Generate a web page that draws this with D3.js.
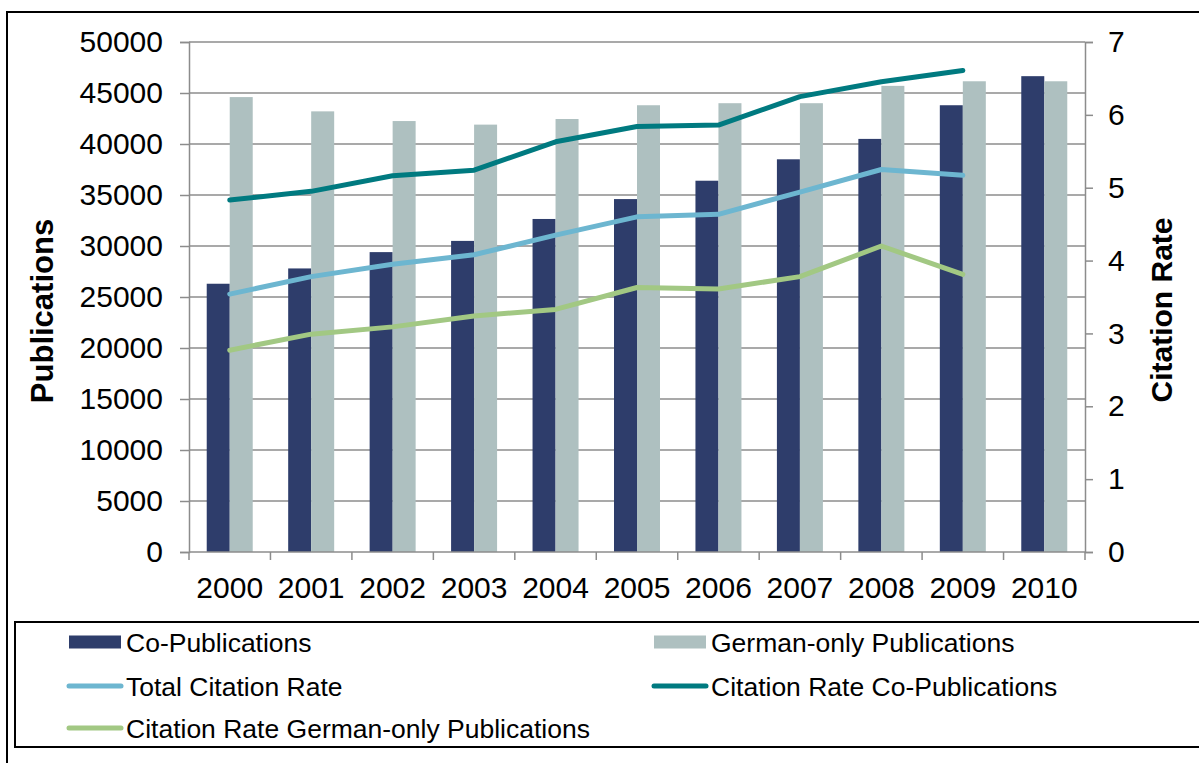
<!DOCTYPE html>
<html><head><meta charset="utf-8">
<script src="https://cdn.jsdelivr.net/npm/d3@7"></script>
<style>body{margin:0;background:#fff}svg{display:block;font-family:"Liberation Sans",Arial,sans-serif}</style>
</head><body>
<svg id="c" width="1199" height="763"></svg>
<script>
const years = ["2000","2001","2002","2003","2004","2005","2006","2007","2008","2009","2010"];
const coPublications = [26300,27800,29400,30500,32650,34600,36400,38500,40500,43800,46650];
const germanOnlyPublications = [44600,43200,42250,41900,42450,43800,44000,44000,45700,46150,46150];
const totalCitationRate = [3.54,3.78,3.95,4.08,4.35,4.60,4.635,4.94,5.25,5.17,null];
const citationRateCoPub = [4.83,4.95,5.165,5.24,5.63,5.84,5.86,6.25,6.455,6.61,null];
const citationRateGerman = [2.77,2.99,3.09,3.24,3.33,3.63,3.61,3.78,4.20,3.81,null];
const leftTicks = [0,5000,10000,15000,20000,25000,30000,35000,40000,45000,50000];
const rightTicks = [0,1,2,3,4,5,6,7];

const C = {navy:"#2E3D6B", gray:"#AEC0C0", teal:"#007A80", blue:"#6DB6D0", green:"#A2C883", grid:"#8C8C8C"};
const svg = d3.select("#c");
const L=189, R=1085, T=42, B=552;

// outer border
svg.append("rect").attr("x",7).attr("y",12).attr("width",1300).attr("height",900)
  .attr("fill","none").attr("stroke","#000").attr("stroke-width",2);

const x = d3.scaleBand().domain(years).range([L,R]).padding(0);
const bw = x.bandwidth();
const xs = d3.scaleBand().domain(["co","de"]).range([0,bw]).paddingInner(0).paddingOuter((bw-46)/2/23);
const yL = d3.scaleLinear().domain([0,50000]).range([B,T]);
const yR = d3.scaleLinear().domain([0,7]).range([B,T]);

// gridlines
svg.append("g").selectAll("line").data(leftTicks.filter(d=>d>0)).join("line")
  .attr("x1",L).attr("x2",R).attr("y1",d=>yL(d)).attr("y2",d=>yL(d))
  .attr("stroke",C.grid).attr("stroke-width",1.5);

// bars
const g = svg.append("g");
years.forEach((yr,i)=>{
  g.append("rect").attr("x",x(yr)+xs("co")).attr("width",xs.bandwidth())
    .attr("y",yL(coPublications[i])).attr("height",B-yL(coPublications[i])).attr("fill",C.navy);
  g.append("rect").attr("x",x(yr)+xs("de")).attr("width",xs.bandwidth())
    .attr("y",yL(germanOnlyPublications[i])).attr("height",B-yL(germanOnlyPublications[i])).attr("fill",C.gray);
});

// axes
const fs = 30;
const ax = svg.append("g").attr("transform",`translate(${L},0)`)
  .call(d3.axisLeft(yL).tickValues(leftTicks).tickFormat(d3.format("d")).tickSize(9).tickPadding(17));
const axR = svg.append("g").attr("transform",`translate(${R},0)`)
  .call(d3.axisRight(yR).tickValues(rightTicks).tickFormat(d3.format("d")).tickSize(8).tickPadding(15));
[ax,axR].forEach(a=>{
  a.select(".domain").attr("stroke",C.grid).attr("stroke-width",1.5);
  a.selectAll(".tick line").attr("stroke",C.grid).attr("stroke-width",1.5);
  a.selectAll("text").attr("font-size",fs).attr("fill","#000").attr("font-family","Liberation Sans, Arial, sans-serif");
});
// x axis
svg.append("line").attr("x1",L).attr("x2",R).attr("y1",B).attr("y2",B).attr("stroke",C.grid).attr("stroke-width",1.5);
const bounds = years.map(d=>x(d)).concat([R]);
svg.append("g").selectAll("line").data(bounds).join("line")
  .attr("x1",d=>d).attr("x2",d=>d).attr("y1",B).attr("y2",B+8).attr("stroke",C.grid).attr("stroke-width",1.5);
svg.append("g").selectAll("text").data(years).join("text")
  .attr("x",d=>x(d)+bw/2).attr("y",598).attr("text-anchor","middle").attr("font-size",fs).text(d=>d);

// lines
const line = d3.line().defined(d=>d.v!=null).x(d=>x(d.k)+bw/2).y(d=>yR(d.v));
[[totalCitationRate,C.blue],[citationRateCoPub,C.teal],[citationRateGerman,C.green]].forEach(([arr,col])=>{
  svg.append("path").datum(years.map((k,i)=>({k,v:arr[i]}))).attr("d",line)
    .attr("fill","none").attr("stroke",col).attr("stroke-width",5).attr("stroke-linecap","round").attr("stroke-linejoin","round");
});

// axis titles
svg.append("text").attr("transform","translate(53,311) rotate(-90)").attr("text-anchor","middle")
  .attr("font-size",31).attr("font-weight","bold").text("Publications");
svg.append("text").attr("transform","translate(1172,310) rotate(-90)").attr("text-anchor","middle")
  .attr("font-size",30).attr("font-weight","bold").text("Citation Rate");

// legend
svg.append("rect").attr("x",15).attr("y",622).attr("width",1300).attr("height",125)
  .attr("fill","none").attr("stroke","#000").attr("stroke-width",2);
const legend = [
  {name:"Co-Publications",type:"bar",col:C.navy,x:69,y:642},
  {name:"German-only Publications",type:"bar",col:C.gray,x:654,y:642},
  {name:"Total Citation Rate",type:"line",col:C.blue,x:69,y:686},
  {name:"Citation Rate Co-Publications",type:"line",col:C.teal,x:654,y:686},
  {name:"Citation Rate German-only Publications",type:"line",col:C.green,x:69,y:728}
];
const lg = svg.append("g").selectAll("g").data(legend).join("g").attr("transform",d=>`translate(${d.x},${d.y})`);
lg.filter(d=>d.type==="bar").append("rect").attr("x",0).attr("y",-6.5).attr("width",52).attr("height",13).attr("fill",d=>d.col);
lg.filter(d=>d.type==="line").append("line").attr("x1",0).attr("x2",52).attr("y1",0).attr("y2",0)
  .attr("stroke",d=>d.col).attr("stroke-width",5).attr("stroke-linecap","round");
lg.append("text").attr("x",57).attr("y",0).attr("dy","0.36em").attr("font-size",26.5).text(d=>d.name);
</script>
</body></html>
